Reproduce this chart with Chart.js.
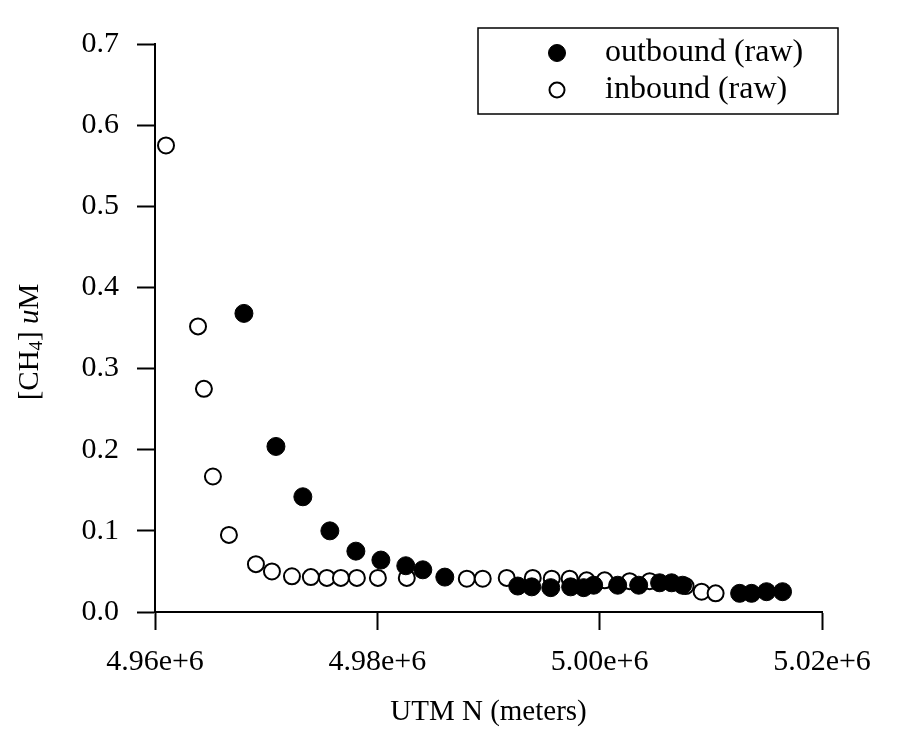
<!DOCTYPE html>
<html>
<head>
<meta charset="utf-8">
<script src="https://cdn.jsdelivr.net/npm/chart.js@4.4.1/dist/chart.umd.min.js"></script>
<style>
  html, body { margin: 0; padding: 0; background: #fff; }
</style>
</head>
<body>
<canvas id="ch4Chart" width="908" height="740"></canvas>
<script>
// CH4 concentration along the transect (UTM northing, meters)
var seriesNames = ['outbound (raw)', 'inbound (raw)'];

var outboundN = [4968000, 4970880, 4973300, 4975730, 4978070, 4980320, 4982560, 4984090, 4986070,
  4992630, 4993890, 4995600, 4997390, 4998560, 4999460, 5001620, 5003510, 5005390, 5006470,
  5007460, 5012590, 5013660, 5015010, 5016450];
var outboundCH4 = [0.368, 0.204, 0.142, 0.100, 0.075, 0.064, 0.057, 0.052, 0.043,
  0.032, 0.031, 0.030, 0.031, 0.030, 0.033, 0.033, 0.033, 0.036, 0.036,
  0.033, 0.023, 0.023, 0.025, 0.025];

var inboundN = [4960990, 4963870, 4964400, 4965210, 4966650, 4969080, 4970520, 4972320, 4974020,
  4975460, 4976720, 4978160, 4980050, 4982650, 4988050, 4989480, 4991640, 4993980, 4995690,
  4997300, 4998830, 5000450, 5002700, 5004500, 5007730, 5009170, 5010430];
var inboundCH4 = [0.575, 0.352, 0.275, 0.167, 0.095, 0.059, 0.050, 0.044, 0.043,
  0.042, 0.042, 0.042, 0.042, 0.042, 0.041, 0.041, 0.042, 0.042, 0.041,
  0.041, 0.039, 0.039, 0.038, 0.038, 0.032, 0.025, 0.023];

var xTickValues = [4960000, 4980000, 5000000, 5020000];
var xTickLabels = ['4.96e+6', '4.98e+6', '5.00e+6', '5.02e+6'];
var yTickValues = [0, 0.1, 0.2, 0.3, 0.4, 0.5, 0.6, 0.7];
var yTickLabels = ['0.0', '0.1', '0.2', '0.3', '0.4', '0.5', '0.6', '0.7'];

var serif = "'Liberation Serif', 'Times New Roman', serif";

function toPoints(xs, ys) {
  return xs.map(function (x, i) { return { x: x, y: ys[i] }; });
}

// y axis title: [CH4] uM with subscript and italic u
var yTitlePlugin = {
  id: 'yTitle',
  afterDraw: function (chart) {
    var ctx = chart.ctx;
    var parts = [
      { t: '[CH', f: '29px ' + serif, dy: 0 },
      { t: '4', f: '19px ' + serif, dy: 7 },
      { t: '] ', f: '29px ' + serif, dy: 0 },
      { t: 'u', f: 'italic 29px ' + serif, dy: 0 },
      { t: 'M', f: '29px ' + serif, dy: 0 }
    ];
    ctx.save();
    var total = 0;
    parts.forEach(function (p) { ctx.font = p.f; p.w = ctx.measureText(p.t).width; total += p.w; });
    ctx.translate(30, 342);
    ctx.rotate(-Math.PI / 2);
    ctx.fillStyle = '#000';
    ctx.textBaseline = 'middle';
    var x = -total / 2;
    parts.forEach(function (p) {
      ctx.font = p.f;
      ctx.fillText(p.t, x, p.dy);
      x += p.w;
    });
    ctx.restore();
  }
};

// boxed legend in the upper right corner
var boxLegendPlugin = {
  id: 'boxLegend',
  afterDraw: function (chart) {
    var ctx = chart.ctx;
    var area = chart.chartArea;
    var left = area.right - 344, top = area.top - 16, w = 360, h = 86;
    ctx.save();
    ctx.strokeStyle = '#000';
    ctx.lineWidth = 1.5;
    ctx.strokeRect(left, top, w, h);
    chart.data.datasets.forEach(function (ds, i) {
      var cy = top + 25 + i * 37;
      var cx = left + 79;
      ctx.beginPath();
      ctx.arc(cx, cy, i === 0 ? 8.5 : 7.5, 0, Math.PI * 2);
      ctx.fillStyle = ds.backgroundColor;
      ctx.fill();
      ctx.lineWidth = ds.borderWidth;
      ctx.strokeStyle = ds.borderColor;
      ctx.stroke();
      ctx.fillStyle = '#000';
      ctx.font = '32px ' + serif;
      ctx.textBaseline = 'middle';
      ctx.fillText(ds.label, left + 127, cy);
    });
    ctx.restore();
  }
};

var ctx = document.getElementById('ch4Chart').getContext('2d');

var myChart = new Chart(ctx, {
  type: 'scatter',
  data: {
    datasets: [{
      label: seriesNames[0],
      data: toPoints(outboundN, outboundCH4),
      backgroundColor: '#000',
      borderColor: '#000',
      borderWidth: 1,
      pointRadius: 9,
      pointHoverRadius: 9
    }, {
      label: seriesNames[1],
      data: toPoints(inboundN, inboundCH4),
      backgroundColor: '#fff',
      borderColor: '#000',
      borderWidth: 2,
      pointRadius: 8,
      pointHoverRadius: 8
    }]
  },
  options: {
    responsive: false,
    animation: false,
    layout: { padding: { top: 44, right: 86, left: 0, bottom: 0 } },
    plugins: {
      legend: { display: false },
      tooltip: { enabled: false }
    },
    scales: {
      x: {
        type: 'linear',
        min: 4960000,
        max: 5020000,
        afterBuildTicks: function (scale) {
          scale.ticks = xTickValues.map(function (v) { return { value: v }; });
        },
        afterFit: function (scale) { scale.height = 128; },
        ticks: {
          color: '#000',
          font: { family: serif, size: 30 },
          padding: 14,
          maxRotation: 0,
          callback: function (value) {
            var i = xTickValues.indexOf(value);
            return i >= 0 ? xTickLabels[i] : '';
          }
        },
        grid: { drawOnChartArea: false, tickLength: 18, tickColor: '#000', tickWidth: 2 },
        border: { color: '#000', width: 2 },
        title: {
          display: true,
          text: 'UTM N (meters)',
          color: '#000',
          font: { family: serif, size: 29 },
          padding: { top: 0, bottom: 10 }
        }
      },
      y: {
        type: 'linear',
        min: 0,
        max: 0.7,
        afterBuildTicks: function (scale) {
          scale.ticks = yTickValues.map(function (v) { return { value: v }; });
        },
        afterFit: function (scale) { scale.width = 155; },
        ticks: {
          color: '#000',
          font: { family: serif, size: 30 },
          padding: 18,
          callback: function (value) {
            return yTickLabels[Math.round(value * 10)];
          }
        },
        grid: { drawOnChartArea: false, tickLength: 18, tickColor: '#000', tickWidth: 2 },
        border: { color: '#000', width: 2 }
      }
    }
  },
  plugins: [yTitlePlugin, boxLegendPlugin]
});
</script>
</body>
</html>
